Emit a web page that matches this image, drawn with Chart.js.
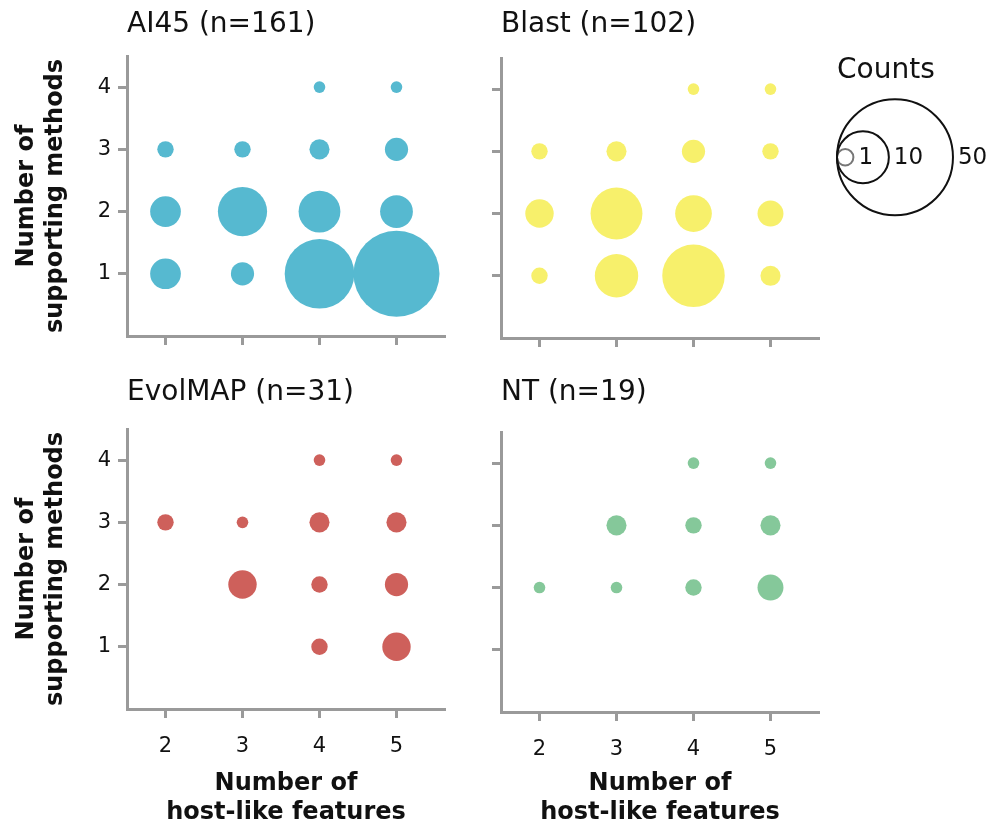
<!DOCTYPE html>
<html>
<head>
<meta charset="utf-8">
<title>Host-like features vs supporting methods</title>
<script src="https://cdn.jsdelivr.net/npm/chart.js@4"></script>
<style>
  body { margin: 0; background: #fff; }
  #wrap { position: relative; width: 1005px; height: 828px; }
  #wrap canvas { position: absolute; }
</style>
</head>
<body>
<div id="wrap">
  <canvas id="ai45" width="470" height="360" style="left:0px;top:0px"></canvas>
  <canvas id="blast" width="370" height="360" style="left:475px;top:0px"></canvas>
  <canvas id="evol" width="470" height="453" style="left:0px;top:375px"></canvas>
  <canvas id="nt" width="370" height="453" style="left:475px;top:375px"></canvas>
  <canvas id="counts" width="179" height="187" style="left:826px;top:40px"></canvas>
</div>
<script>
// x: number of host-like features, y: number of supporting methods
var features = [2, 3, 4, 5];
var methods = [1, 2, 3, 4];

// rows follow methods (1..4), columns follow features (2..5), 0 = no bubble
var ai45Counts = [
  [7, 4, 36, 55],
  [7, 18, 13, 8],
  [2, 2, 3, 4],
  [0, 0, 1, 1]
];
var blastCounts = [
  [2, 14, 29, 3],
  [6, 20, 10, 5],
  [2, 3, 4, 2],
  [0, 0, 1, 1]
];
var evolCounts = [
  [0, 0, 2, 6],
  [0, 6, 2, 4],
  [2, 1, 3, 3],
  [0, 0, 1, 1]
];
var ntCounts = [
  [0, 0, 0, 0],
  [1, 1, 2, 5],
  [0, 3, 2, 3],
  [0, 0, 1, 1]
];
var legendCounts = [1, 10, 50];

var K = 5.8;   // bubble radius per sqrt(count)
var KL = 8.2;  // legend radius per sqrt(count)
var AXIS = "#9a9a9a";
var INK = "#111";

Chart.defaults.font.family = "'DejaVu Sans', sans-serif";
Chart.defaults.color = INK;

function bubbles(counts) {
  var pts = [];
  for (var i = 0; i < methods.length; i++) {
    for (var j = 0; j < features.length; j++) {
      var c = counts[i][j];
      if (c > 0) pts.push({ x: features[j], y: methods[i], r: K * Math.sqrt(c) });
    }
  }
  return pts;
}

function panel(id, title, counts, color, o) {
  new Chart(document.getElementById(id), {
    type: "bubble",
    data: {
      datasets: [{ data: bubbles(counts), backgroundColor: color, borderWidth: 0 }]
    },
    options: {
      responsive: false,
      animation: false,
      events: [],
      layout: { autoPadding: false, padding: { left: 0, top: 0, right: o.padRight, bottom: o.padBottom } },
      plugins: {
        legend: { display: false },
        tooltip: { enabled: false },
        title: {
          display: true,
          text: title,
          align: "start",
          fullSize: false,
          color: INK,
          font: { size: 28, weight: "normal" },
          padding: { top: o.titleTop, bottom: o.titleBottom }
        }
      },
      scales: {
        x: {
          type: "linear",
          min: 1.5,
          max: 5.63,
          afterBuildTicks: function (s) { s.ticks = features.map(function (v) { return { value: v }; }); },
          afterFit: function (s) { s.height = o.xHeight; },
          border: { color: AXIS, width: 3 },
          grid: { drawOnChartArea: false, drawTicks: true, tickLength: 9, tickWidth: 3, tickColor: AXIS },
          ticks: { display: o.bottomRow, color: INK, font: { size: 21 }, padding: 16 },
          title: {
            display: o.bottomRow,
            text: ["Number of", "host-like features"],
            color: INK,
            font: { size: 24, weight: "bold" },
            padding: { top: 0, bottom: 1 }
          }
        },
        y: {
          type: "linear",
          min: 0,
          max: 4.5,
          afterBuildTicks: function (s) { s.ticks = methods.map(function (v) { return { value: v }; }); },
          afterFit: function (s) { s.width = o.yWidth; },
          border: { color: AXIS, width: 3 },
          grid: { drawOnChartArea: false, drawTicks: true, tickLength: 9, tickWidth: 3, tickColor: AXIS },
          ticks: { display: o.leftCol, color: INK, font: { size: 21 }, padding: 7 },
          title: {
            display: o.leftCol,
            text: ["Number of", "supporting methods"],
            color: INK,
            font: { size: 24, weight: "bold" },
            padding: { top: 12.6, bottom: 0 }
          }
        }
      }
    }
  });
}

panel("ai45", "AI45 (n=161)", ai45Counts, "#56b9d0", {
  leftCol: true, bottomRow: false, yWidth: 127, xHeight: 12,
  padRight: 25, padBottom: 12, titleTop: 8, titleBottom: 14.4
});
panel("blast", "Blast (n=102)", blastCounts, "#f7f06b", {
  leftCol: false, bottomRow: false, yWidth: 26, xHeight: 12,
  padRight: 26, padBottom: 10, titleTop: 8, titleBottom: 16.4
});
panel("evol", "EvolMAP (n=31)", evolCounts, "#ce605b", {
  leftCol: true, bottomRow: true, yWidth: 127, xHeight: 119,
  padRight: 25, padBottom: 0, titleTop: 1, titleBottom: 19.4
});
panel("nt", "NT (n=19)", ntCounts, "#85c89a", {
  leftCol: false, bottomRow: true, yWidth: 26, xHeight: 116,
  padRight: 26, padBottom: 0, titleTop: 1, titleBottom: 22.4
});

// size key: open circles sharing a left edge, labels on their right
var keyLabels = {
  id: "keyLabels",
  afterDatasetsDraw: function (chart) {
    var ctx = chart.ctx;
    var meta = chart.getDatasetMeta(0);
    ctx.save();
    ctx.fillStyle = INK;
    ctx.font = "23px 'DejaVu Sans'";
    ctx.textBaseline = "middle";
    ctx.textAlign = "left";
    meta.data.forEach(function (el, i) {
      ctx.fillText(String(legendCounts[i]), el.x + el.options.radius + 5, el.y + 1);
    });
    ctx.restore();
  }
};

new Chart(document.getElementById("counts"), {
  type: "bubble",
  data: {
    datasets: [{
      data: legendCounts.map(function (c) { return { x: KL * Math.sqrt(c), y: 0, r: KL * Math.sqrt(c) }; }),
      backgroundColor: "rgba(0,0,0,0)",
      borderColor: ["#777", INK, INK],
      borderWidth: 2,
      clip: false
    }]
  },
  options: {
    responsive: false,
    animation: false,
    events: [],
    layout: { autoPadding: false, padding: { left: 11, top: 0, right: 0, bottom: 0 } },
    plugins: {
      legend: { display: false },
      tooltip: { enabled: false },
      title: {
        display: true,
        text: "Counts",
        align: "start",
        fullSize: false,
        color: INK,
        font: { size: 28, weight: "normal" },
        padding: { top: 14, bottom: 0 }
      }
    },
    scales: {
      x: { display: false, min: 0, max: 168 },
      y: { display: false, min: -1, max: 1 }
    }
  },
  plugins: [keyLabels]
});
</script>
</body>
</html>
